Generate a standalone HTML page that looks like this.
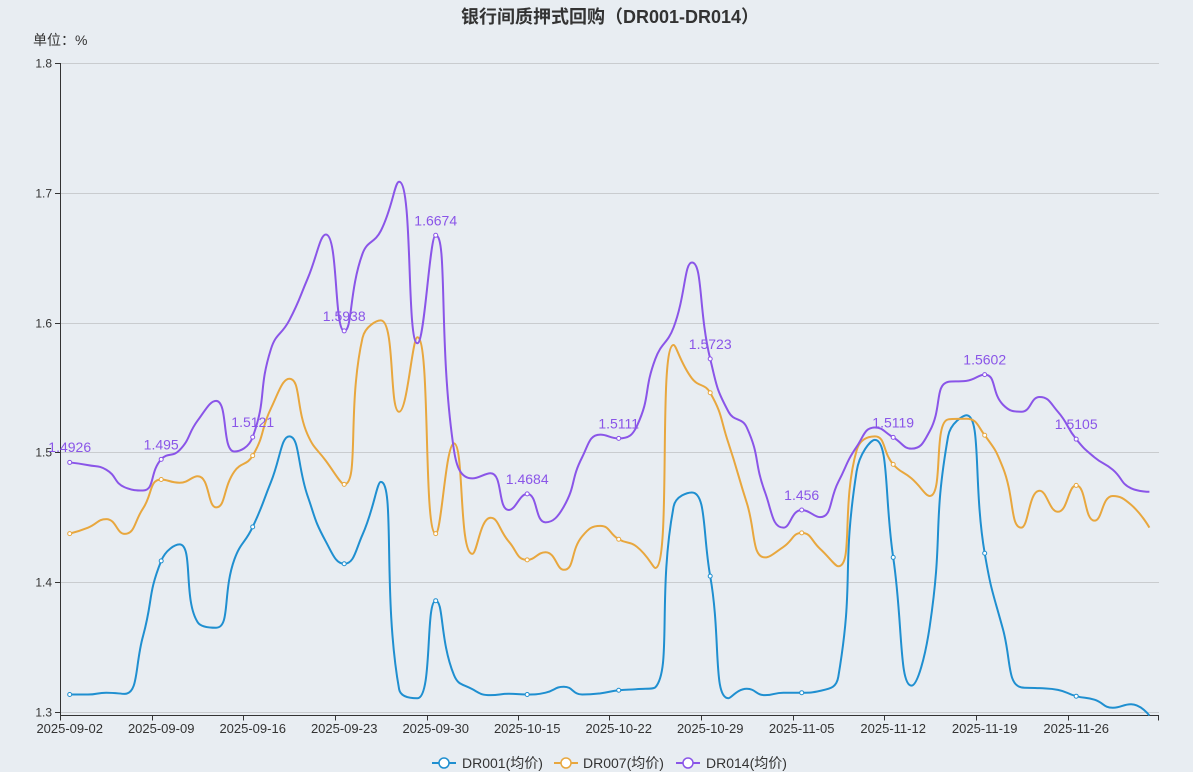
<!DOCTYPE html>
<html>
<head>
<meta charset="utf-8">
<style>
  html,body{margin:0;padding:0;background:#e8edf2;}
  svg{display:block;}
  text{font-family:"Liberation Sans","Noto Sans CJK SC",sans-serif;}
</style>
</head>
<body>
<svg id="chart" width="1193" height="772" viewBox="0 0 1193 772" xmlns="http://www.w3.org/2000/svg">
  <rect x="0" y="0" width="1193" height="772" fill="#e8edf2"/>
  <!-- title -->
  <text x="461" y="23" font-size="18" font-weight="bold" fill="#333">银行间质押式回购（DR001-DR014）</text>
  <text x="33" y="45" font-size="14" fill="#333">单位：%</text>

  <!-- grid lines -->
  <g stroke="#c9cccf" stroke-width="1">
    <line x1="60.5" y1="63.5" x2="1159" y2="63.5"/>
    <line x1="60.5" y1="193.5" x2="1159" y2="193.5"/>
    <line x1="60.5" y1="323.5" x2="1159" y2="323.5"/>
    <line x1="60.5" y1="452.5" x2="1159" y2="452.5"/>
    <line x1="60.5" y1="582.5" x2="1159" y2="582.5"/>
    <line x1="60.5" y1="712.5" x2="1159" y2="712.5"/>
  </g>
  <!-- y axis -->
  <g stroke="#333" stroke-width="1">
    <line x1="60.5" y1="63" x2="60.5" y2="716"/>
    <line x1="55" y1="63.5" x2="60.5" y2="63.5"/>
    <line x1="55" y1="193.5" x2="60.5" y2="193.5"/>
    <line x1="55" y1="323.5" x2="60.5" y2="323.5"/>
    <line x1="55" y1="452.5" x2="60.5" y2="452.5"/>
    <line x1="55" y1="582.5" x2="60.5" y2="582.5"/>
    <line x1="55" y1="712.5" x2="60.5" y2="712.5"/>
  </g>
  <g font-size="12" fill="#333" text-anchor="end">
    <text x="52" y="67.5">1.8</text>
    <text x="52" y="197.5">1.7</text>
    <text x="52" y="327.5">1.6</text>
    <text x="52" y="456.5">1.5</text>
    <text x="52" y="586.5">1.4</text>
    <text x="52" y="716.5">1.3</text>
  </g>
  <!-- x axis -->
  <g stroke="#333" stroke-width="1">
    <line x1="60.5" y1="715.5" x2="1159" y2="715.5"/>
    <line x1="60.5" y1="715.5" x2="60.5" y2="720.5"/>
    <line x1="152.5" y1="715.5" x2="152.5" y2="720.5"/>
    <line x1="243.5" y1="715.5" x2="243.5" y2="720.5"/>
    <line x1="335.5" y1="715.5" x2="335.5" y2="720.5"/>
    <line x1="427.5" y1="715.5" x2="427.5" y2="720.5"/>
    <line x1="518.5" y1="715.5" x2="518.5" y2="720.5"/>
    <line x1="609.5" y1="715.5" x2="609.5" y2="720.5"/>
    <line x1="701.5" y1="715.5" x2="701.5" y2="720.5"/>
    <line x1="793.5" y1="715.5" x2="793.5" y2="720.5"/>
    <line x1="884.5" y1="715.5" x2="884.5" y2="720.5"/>
    <line x1="976.5" y1="715.5" x2="976.5" y2="720.5"/>
    <line x1="1068.5" y1="715.5" x2="1068.5" y2="720.5"/>
    <line x1="1158.5" y1="715.5" x2="1158.5" y2="720.5"/>
  </g>
  <g font-size="13" fill="#333" text-anchor="middle">
    <text x="69.7" y="733">2025-09-02</text>
    <text x="161.2" y="733">2025-09-09</text>
    <text x="252.7" y="733">2025-09-16</text>
    <text x="344.2" y="733">2025-09-23</text>
    <text x="435.7" y="733">2025-09-30</text>
    <text x="527.2" y="733">2025-10-15</text>
    <text x="618.7" y="733">2025-10-22</text>
    <text x="710.2" y="733">2025-10-29</text>
    <text x="801.7" y="733">2025-11-05</text>
    <text x="893.2" y="733">2025-11-12</text>
    <text x="984.7" y="733">2025-11-19</text>
    <text x="1076.2" y="733">2025-11-26</text>
  </g>

  <!-- fallback polylines (replaced by script) -->
  <g id="fallback" transform="matrix(18.3,0,0,-1299.4,69.7,2401.92)" fill="none" stroke-width="2">
    <polyline vector-effect="non-scaling-stroke" stroke="#1f8fd0" points="0,1.314 1,1.314 2,1.3154 3,1.3145 4,1.3586 5,1.4168 6,1.4295 7,1.3695 8,1.3654 9,1.418 10,1.443 11,1.4776 12,1.5127 13,1.4668 14,1.4316 15,1.4146 16,1.437 17,1.4776 18,1.3181 19,1.3111 20,1.3862 21,1.3289 22,1.3181 23,1.3135 24,1.3146 25,1.314 26,1.3154 27,1.32 28,1.314 29,1.3149 30,1.3173 31,1.3181 32,1.3195 33,1.4586 34,1.4695 35,1.4051 36,1.3111 37,1.3184 38,1.3135 39,1.3154 40,1.3154 41,1.3168 42,1.3276 43,1.4857 44,1.51 45,1.4195 46,1.3208 47,1.3668 48,1.5127 49,1.5289 50,1.4227 51,1.3641 52,1.3195 53,1.3189 54,1.3176 55,1.3127 56,1.31 57,1.3038 58,1.3065 59,1.2978"/>
    <polyline vector-effect="non-scaling-stroke" stroke="#e8a73e" points="0,1.4378 1,1.4424 2,1.449 3,1.4376 4,1.457 5,1.4795 6,1.477 7,1.482 8,1.458 9,1.4857 10,1.4978 11,1.5343 12,1.557 13,1.514 14,1.4938 15,1.4757 16,1.5884 17,1.6019 18,1.5316 19,1.5889 20,1.4378 21,1.5073 22,1.4222 23,1.45 24,1.4316 25,1.4176 26,1.4235 27,1.41 28,1.4357 29,1.4438 30,1.4335 31,1.4276 32,1.4114 33,1.583 34,1.5573 35,1.5462 36,1.5073 37,1.4614 38,1.4195 39,1.4276 40,1.4384 41,1.4262 42,1.4127 43,1.5019 44,1.5127 45,1.4911 46,1.4803 47,1.4668 48,1.5257 49,1.5262 50,1.5135 51,1.4884 52,1.4424 53,1.4708 54,1.4546 55,1.4749 56,1.4478 57,1.4668 58,1.46 59,1.4424"/>
    <polyline vector-effect="non-scaling-stroke" stroke="#8a55e8" points="0,1.4926 1,1.4905 2,1.487 3,1.4735 4,1.471 5,1.495 6,1.502 7,1.525 8,1.54 9,1.501 10,1.5121 11,1.58 12,1.602 13,1.634 14,1.668 15,1.5938 16,1.6532 17,1.6708 18,1.7086 19,1.5843 20,1.6674 21,1.5019 22,1.4803 23,1.4843 24,1.456 25,1.4684 26,1.4465 27,1.4586 28,1.4965 29,1.514 30,1.5111 31,1.5208 32,1.5722 33,1.5965 34,1.6465 35,1.5723 36,1.5316 37,1.5195 38,1.4695 39,1.4424 40,1.456 41,1.4505 42,1.4776 43,1.5046 44,1.5195 45,1.5119 46,1.5032 47,1.5168 48,1.5546 49,1.5554 50,1.5602 51,1.537 52,1.5316 53,1.543 54,1.5316 55,1.5105 56,1.4965 57,1.487 58,1.4727 59,1.47"/>
  </g>
  <g id="series"></g>

  <!-- purple labels -->
  <g font-size="14" fill="#8a55e8" text-anchor="middle">
    <text x="69.7" y="452">1.4926</text>
    <text x="161.2" y="449.5">1.495</text>
    <text x="252.7" y="427">1.5121</text>
    <text x="344.2" y="321">1.5938</text>
    <text x="435.7" y="225.5">1.6674</text>
    <text x="527.2" y="484">1.4684</text>
    <text x="618.7" y="428.5">1.5111</text>
    <text x="710.2" y="349">1.5723</text>
    <text x="801.7" y="500">1.456</text>
    <text x="893.2" y="427.5">1.5119</text>
    <text x="984.7" y="364.5">1.5602</text>
    <text x="1076.2" y="429">1.5105</text>
  </g>

  <!-- legend -->
  <g>
    <line x1="432" y1="763" x2="456" y2="763" stroke="#1f8fd0" stroke-width="2"/>
    <circle cx="444" cy="763" r="5" fill="#fff" stroke="#1f8fd0" stroke-width="1.5"/>
    <text x="462" y="768" font-size="14" fill="#333">DR001(均价)</text>
    <line x1="554" y1="763" x2="578" y2="763" stroke="#e8a73e" stroke-width="2"/>
    <circle cx="566" cy="763" r="5" fill="#fff" stroke="#e8a73e" stroke-width="1.5"/>
    <text x="583" y="768" font-size="14" fill="#333">DR007(均价)</text>
    <line x1="676" y1="763" x2="700" y2="763" stroke="#8a55e8" stroke-width="2"/>
    <circle cx="688" cy="763" r="5" fill="#fff" stroke="#8a55e8" stroke-width="1.5"/>
    <text x="706" y="768" font-size="14" fill="#333">DR014(均价)</text>
  </g>
</svg>
<script>
(function(){
  var d1=[1.314,1.314,1.3154,1.3145,1.3586,1.4168,1.4295,1.3695,1.3654,1.418,1.443,1.4776,1.5127,1.4668,1.4316,1.4146,1.437,1.4776,1.3181,1.3111,1.3862,1.3289,1.3181,1.3135,1.3146,1.314,1.3154,1.32,1.314,1.3149,1.3173,1.3181,1.3195,1.4586,1.4695,1.4051,1.3111,1.3184,1.3135,1.3154,1.3154,1.3168,1.3276,1.4857,1.51,1.4195,1.3208,1.3668,1.5127,1.5289,1.4227,1.3641,1.3195,1.3189,1.3176,1.3127,1.31,1.3038,1.3065,1.2978];
  var d7=[1.4378,1.4424,1.449,1.4376,1.457,1.4795,1.477,1.482,1.458,1.4857,1.4978,1.5343,1.557,1.514,1.4938,1.4757,1.5884,1.6019,1.5316,1.5889,1.4378,1.5073,1.4222,1.45,1.4316,1.4176,1.4235,1.41,1.4357,1.4438,1.4335,1.4276,1.4114,1.583,1.5573,1.5462,1.5073,1.4614,1.4195,1.4276,1.4384,1.4262,1.4127,1.5019,1.5127,1.4911,1.4803,1.4668,1.5257,1.5262,1.5135,1.4884,1.4424,1.4708,1.4546,1.4749,1.4478,1.4668,1.46,1.4424];
  var d14=[1.4926,1.4905,1.487,1.4735,1.471,1.495,1.502,1.525,1.54,1.501,1.5121,1.58,1.602,1.634,1.668,1.5938,1.6532,1.6708,1.7086,1.5843,1.6674,1.5019,1.4803,1.4843,1.456,1.4684,1.4465,1.4586,1.4965,1.514,1.5111,1.5208,1.5722,1.5965,1.6465,1.5723,1.5316,1.5195,1.4695,1.4424,1.456,1.4505,1.4776,1.5046,1.5195,1.5119,1.5032,1.5168,1.5546,1.5554,1.5602,1.537,1.5316,1.543,1.5316,1.5105,1.4965,1.487,1.4727,1.47];
  function X(i){return 69.7+18.3*i;}
  function Y(v){return 712.7-(v-1.3)*1299.4;}
  function f(n){return Math.round(n*100)/100;}
  function smoothPath(pts,smooth){
    var d='';var prevX,prevY,cpx0,cpy0,cpx1,cpy1,n=pts.length;
    var mn=Math.min,mx=Math.max;
    for(var idx=0;idx<n;idx++){
      var x=pts[idx][0],y=pts[idx][1];
      if(idx===0){d+='M'+f(x)+','+f(y);cpx0=x;cpy0=y;}
      else{
        var nextCpx0,nextCpy0;
        if(idx+1>=n){cpx1=x;cpy1=y;nextCpx0=x;nextCpy0=y;}
        else{
          var nextX=pts[idx+1][0],nextY=pts[idx+1][1];
          var vx=nextX-prevX,vy=nextY-prevY;
          var dx0=x-prevX,dx1=nextX-x,dy0=y-prevY,dy1=nextY-y;
          var lp=Math.sqrt(dx0*dx0+dy0*dy0),ln=Math.sqrt(dx1*dx1+dy1*dy1);
          var r=ln/(ln+lp);
          nextCpx0=x+vx*smooth*r;nextCpy0=y+vy*smooth*r;
          nextCpx0=mn(nextCpx0,mx(nextX,x));nextCpy0=mn(nextCpy0,mx(nextY,y));
          nextCpx0=mx(nextCpx0,mn(nextX,x));nextCpy0=mx(nextCpy0,mn(nextY,y));
          vx=nextCpx0-x;vy=nextCpy0-y;
          cpx1=x-vx*lp/ln;cpy1=y-vy*lp/ln;
          cpx1=mn(cpx1,mx(prevX,x));cpy1=mn(cpy1,mx(prevY,y));
          cpx1=mx(cpx1,mn(prevX,x));cpy1=mx(cpy1,mn(prevY,y));
          vx=x-cpx1;vy=y-cpy1;
          nextCpx0=x+vx*ln/lp;nextCpy0=y+vy*ln/lp;
        }
        d+='C'+f(cpx0)+','+f(cpy0)+' '+f(cpx1)+','+f(cpy1)+' '+f(x)+','+f(y);
        cpx0=nextCpx0;cpy0=nextCpy0;
      }
      prevX=x;prevY=y;
    }
    return d;
  }
  var NS='http://www.w3.org/2000/svg';
  var g=document.getElementById('series');
  var series=[[d1,'#1f8fd0'],[d7,'#e8a73e'],[d14,'#8a55e8']];
  series.forEach(function(s){
    var pts=s[0].map(function(v,i){return [X(i),Y(v)];});
    var p=document.createElementNS(NS,'path');
    p.setAttribute('d',smoothPath(pts,0.5));
    p.setAttribute('fill','none');
    p.setAttribute('stroke',s[1]);
    p.setAttribute('stroke-width','2');
    p.setAttribute('stroke-linejoin','round');
    g.appendChild(p);
  });
  series.forEach(function(s){
    for(var i=0;i<s[0].length;i+=5){
      var c=document.createElementNS(NS,'circle');
      c.setAttribute('cx',X(i));c.setAttribute('cy',Y(s[0][i]));
      c.setAttribute('r','2');c.setAttribute('fill','#fff');
      c.setAttribute('stroke',s[1]);c.setAttribute('stroke-width','1');
      g.appendChild(c);
    }
  });
  var fb=document.getElementById('fallback');
  if(fb&&fb.parentNode){fb.parentNode.removeChild(fb);}
})();
</script>
</body>
</html>
